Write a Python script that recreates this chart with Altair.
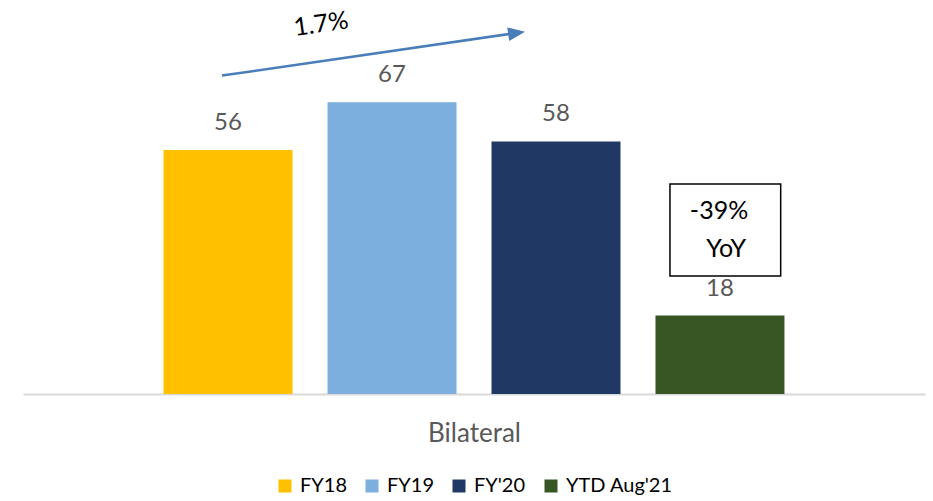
import altair as alt
import pandas as pd

# Series shown as one bar each inside the single "Bilateral" group
series = ["FY18", "FY19", "FY'20", "YTD Aug'21"]
values = [56, 67, 58, 18]
colors = ["#FFC000", "#7CAFDD", "#203864", "#375623"]
group_label = "Bilateral"

# Annotation texts
growth_text = "1.7%"
callout_lines = ["-39%", "YoY"]

# Annotation placement: x in bar-slot units (bar i centred at 1.25 + i), y in value units
arrow_from = (1.213, 73.1)
arrow_to = (3.01, 82.9)
growth_at = (1.817, 84.9)
box_x = (3.945, 4.62)
box_y = (27.1, 48.2)
callout_at = [(4.244, 42.0), (4.287, 33.4)]

FONT = "Lato"
Y_MAX = 90

bars_df = pd.DataFrame({"series": series, "value": values})

y_enc = alt.Y("value:Q", scale=alt.Scale(domain=[0, Y_MAX], nice=False), axis=None)
x_enc = alt.X(
    "series:N",
    sort=series,
    scale=alt.Scale(paddingInner=0.2134, paddingOuter=0.857),
    axis=alt.Axis(
        labels=False,
        ticks=False,
        title=group_label,
        domainColor="#D9D9D9",
        domainWidth=2,
        titleFont=FONT,
        titleFontSize=26,
        titleFontWeight="normal",
        titleColor="#595959",
        titlePadding=26,
    ),
)

bars = alt.Chart(bars_df).mark_bar().encode(
    x=x_enc,
    y=y_enc,
    color=alt.Color(
        "series:N",
        sort=series,
        scale=alt.Scale(domain=series, range=colors),
        legend=alt.Legend(
            orient="none",
            legendX=252,
            legendY=474,
            direction="horizontal",
            title=None,
            symbolType="square",
            symbolSize=169,
            symbolStrokeWidth=0,
            labelFont=FONT,
            labelFontSize=20,
            labelColor="black",
            labelOffset=5,
            columnPadding=15,
            padding=0,
        ),
    ),
)

value_labels = alt.Chart(bars_df).mark_text(
    dy=-27, fontSize=24, font=FONT, color="#595959", baseline="middle"
).encode(
    x=x_enc,
    y=y_enc,
    text=alt.Text("value:Q"),
)

bar_layer = alt.layer(bars, value_labels)

# Annotation layer on a slot-unit x scale
slot_x = alt.Scale(domain=[0, 5.5], nice=False, zero=False)
ann_y = alt.Scale(domain=[0, Y_MAX], nice=False)

arrow_df = pd.DataFrame(
    {"x": [arrow_from[0]], "y": [arrow_from[1]], "x2": [arrow_to[0]], "y2": [arrow_to[1]]}
)
arrow_line = alt.Chart(arrow_df).mark_rule(color="#4A7EBB", strokeWidth=2.5).encode(
    x=alt.X("x:Q", scale=slot_x, axis=None),
    x2="x2:Q",
    y=alt.Y("y:Q", scale=ann_y, axis=None),
    y2="y2:Q",
)
arrow_head = alt.Chart(arrow_df).mark_point(
    shape="M 1 0 L -1 -0.8 L -1 0.8 Z",
    filled=True,
    size=289,
    angle=351.7,
    color="#4A7EBB",
    opacity=1,
    strokeWidth=0,
).encode(
    x=alt.X("x2:Q", scale=slot_x, axis=None),
    y=alt.Y("y2:Q", scale=ann_y, axis=None),
)

growth_df = pd.DataFrame({"x": [growth_at[0]], "y": [growth_at[1]], "t": [growth_text]})
growth_label = alt.Chart(growth_df).mark_text(
    angle=352, fontSize=25, font=FONT, color="black", baseline="middle"
).encode(
    x=alt.X("x:Q", scale=slot_x, axis=None),
    y=alt.Y("y:Q", scale=ann_y, axis=None),
    text="t:N",
)

box_df = pd.DataFrame({"x": [box_x[0]], "x2": [box_x[1]], "y": [box_y[0]], "y2": [box_y[1]]})
callout_box = alt.Chart(box_df).mark_rect(
    fill="white", stroke="black", strokeWidth=1.5
).encode(
    x=alt.X("x:Q", scale=slot_x, axis=None),
    x2="x2:Q",
    y=alt.Y("y:Q", scale=ann_y, axis=None),
    y2="y2:Q",
)

callout_df = pd.DataFrame(
    {
        "x": [p[0] for p in callout_at],
        "y": [p[1] for p in callout_at],
        "t": callout_lines,
    }
)
callout_text = alt.Chart(callout_df).mark_text(
    fontSize=25, font=FONT, color="black", baseline="middle"
).encode(
    x=alt.X("x:Q", scale=slot_x, axis=None),
    y=alt.Y("y:Q", scale=ann_y, axis=None),
    text="t:N",
)

annotation_layer = alt.layer(arrow_line, arrow_head, growth_label, callout_box, callout_text)

chart = (
    alt.layer(bar_layer, annotation_layer)
    .resolve_scale(x="independent")
    .properties(
        width=902,
        height=392,
        autosize=alt.AutoSizeParams(type="none"),
        padding={"left": 23, "right": 8, "top": 2, "bottom": 107},
        background="white",
    )
    .configure_view(stroke=None)
)

chart.save("out.html", embed_options={"renderer": "svg", "actions": False})
